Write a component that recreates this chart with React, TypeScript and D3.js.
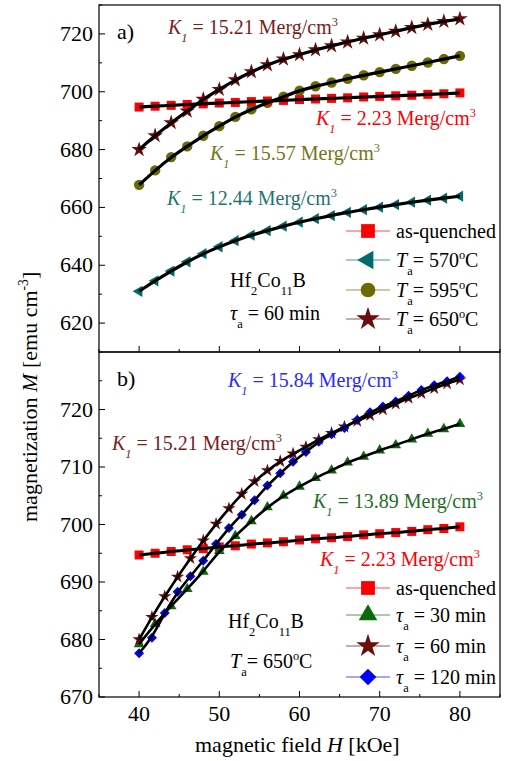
import React, { useEffect, useRef } from 'react';
import * as d3 from 'd3';

// panel a) field points (kOe) and magnetization (emu cm^-3)
const fieldA = [40, 42, 44, 46, 48, 50, 52, 54, 56, 58, 60, 62, 64, 66, 68, 70, 72, 74, 76, 78, 80];
const asQuenched = [694.7, 695.0, 695.3, 695.6, 695.8, 696.1, 696.3, 696.6, 696.8, 697.0, 697.3, 697.5, 697.7, 697.9, 698.2, 698.4, 698.6, 698.8, 699.1, 699.3, 699.6];
const ta570 = [631.0, 634.6, 638.0, 641.2, 644.0, 646.4, 648.5, 650.4, 652.0, 653.5, 654.9, 656.1, 657.2, 658.3, 659.2, 660.1, 661.0, 661.8, 662.5, 663.2, 663.9];
const ta595 = [667.8, 672.8, 677.4, 681.1, 684.8, 688.1, 691.3, 693.9, 696.2, 698.3, 700.4, 701.9, 703.2, 704.5, 705.7, 706.8, 707.9, 709.0, 710.1, 711.3, 712.4];
const ta650 = [680.0, 684.8, 689.3, 693.3, 697.4, 700.8, 704.1, 706.9, 709.3, 711.3, 712.8, 714.5, 715.9, 717.2, 718.5, 719.7, 720.9, 722.2, 723.3, 724.3, 725.2];

// panel b)
const tau30 = [679.2, 682.7, 685.8, 688.8, 691.8, 695.4, 698.0, 700.6, 703.0, 705.0, 706.6, 708.1, 709.4, 710.8, 711.8, 712.9, 713.8, 714.8, 715.8, 716.6, 717.5];
const fieldB = [40, 41.6, 43.2, 44.8, 46.4, 48, 49.6, 51.2, 52.8, 54.4, 56, 57.6, 59.2, 60.8, 62.4, 64, 65.6, 67.2, 68.8, 70.4, 72, 73.6, 75.2, 76.8, 78.4, 80];
const tau60 = [680.0, 683.9, 687.5, 690.9, 694.1, 697.2, 700.1, 702.8, 705.3, 707.5, 709.4, 711.0, 712.3, 713.5, 714.8, 715.9, 717.0, 718.0, 719.0, 720.0, 721.0, 722.0, 722.8, 723.7, 724.5, 725.2];
const tau120 = [677.6, 680.3, 684.6, 688.3, 691.0, 693.7, 696.6, 699.4, 701.7, 704.2, 706.8, 708.9, 710.9, 712.6, 714.4, 715.7, 716.8, 718.2, 719.5, 720.5, 721.4, 722.4, 723.4, 724.2, 724.9, 725.7];

const xTicks = [40, 50, 60, 70, 80];
const xMinor = [35, 45, 55, 65, 75, 85];
const yTicksA = [620, 640, 660, 680, 700, 720];
const yMinorA = [610, 630, 650, 670, 690, 710, 730];
const yTicksB = [670, 680, 690, 700, 710, 720];
const yMinorB = [675, 685, 695, 705, 715, 725];

const RED = '#ff0000';
const TEAL = '#006b6b';
const OLIVE = '#6b6b00';
const MAROON = '#6b0c0c';
const GREEN = '#0b6b0b';
const BLUE = '#0000ff';

const FONT = '"Liberation Serif", "Times New Roman", serif';

type Part = { t: string; i?: boolean; sub?: boolean; sup?: boolean };

const richText = (g: any, x: number, y: number, parts: Part[], size: number, color: string) => {
    const text = g.append('text')
        .attr('x', x)
        .attr('y', y)
        .attr('font-size', size)
        .attr('fill', color);
    let shift = 0;
    parts.forEach(p => {
        const target = p.sub ? size * 0.38 : p.sup ? -size * 0.42 : 0;
        const ts = text.append('tspan').attr('dy', target - shift).text(p.t);
        if (p.i) ts.attr('font-style', 'italic');
        if (p.sub || p.sup) ts.attr('font-size', size * 0.62);
        shift = target;
    });
    return text;
};

const kLabel = (val: string): Part[] => [
    { t: 'K', i: true }, { t: '1', i: true, sub: true }, { t: ' = ' + val + ' Merg/cm' }, { t: '3', sup: true }
];

const App = () => {
    const svgRef = useRef<SVGSVGElement>(null);

    useEffect(() => {
        const svg = d3.select(svgRef.current);
        svg.selectAll('*').remove();
        svg.attr('font-family', FONT);

        const left = 99, right = 500;
        const x = d3.scaleLinear().domain([35, 85]).range([left, right]);
        const yA = d3.scaleLinear().domain([610, 730]).range([352, 5]);
        const yB = d3.scaleLinear().domain([670, 730]).range([697, 352]);

        const sym = (type: any, size: number) => d3.symbol().type(type).size(size)();

        const drawAxes = (y: any, bottom: number, majors: number[], minors: number[], labelsX: boolean) => {
            const g = svg.append('g');
            // left ticks (inward)
            majors.forEach(v => {
                g.append('line').attr('x1', left).attr('x2', left + 6).attr('y1', y(v)).attr('y2', y(v)).attr('stroke', '#000');
                g.append('text').attr('x', left - 6).attr('y', y(v) + 7).attr('text-anchor', 'end')
                    .attr('font-size', 22).text(v);
            });
            minors.forEach(v => {
                g.append('line').attr('x1', left).attr('x2', left + 3).attr('y1', y(v)).attr('y2', y(v)).attr('stroke', '#000');
            });
            xTicks.forEach(v => {
                g.append('line').attr('x1', x(v)).attr('x2', x(v)).attr('y1', bottom).attr('y2', bottom - 6).attr('stroke', '#000');
                if (labelsX) {
                    g.append('text').attr('x', x(v)).attr('y', bottom + 24).attr('text-anchor', 'middle')
                        .attr('font-size', 22).text(v);
                }
            });
            xMinor.forEach(v => {
                g.append('line').attr('x1', x(v)).attr('x2', x(v)).attr('y1', bottom).attr('y2', bottom - 3).attr('stroke', '#000');
            });
        };

        const drawSeries = (y: any, xs: number[], ys: number[], color: string, shape: any, size: number, rotate: number) => {
            svg.append('g').selectAll('path')
                .data(ys)
                .enter()
                .append('path')
                .attr('d', sym(shape, size))
                .attr('transform', (d, i) => `translate(${x(xs[i])},${y(d)}) rotate(${rotate})`)
                .attr('fill', color);
        };

        const drawFit = (y: any, xs: number[], ys: number[], width: number) => {
            const line = d3.line<number>()
                .x((d, i) => x(xs[i]))
                .y(d => y(d))
                .curve(d3.curveBasis);
            svg.append('path')
                .datum(ys)
                .attr('fill', 'none')
                .attr('stroke', '#000')
                .attr('stroke-width', width)
                .attr('d', line);
        };

        const legendRow = (lx: number, ly: number, color: string, shape: any, size: number, rotate: number, parts: Part[]) => {
            svg.append('line').attr('x1', lx).attr('x2', lx + 44).attr('y1', ly).attr('y2', ly)
                .attr('stroke', color).attr('stroke-width', 1.2).attr('stroke-opacity', 0.7);
            svg.append('path').attr('d', sym(shape, size))
                .attr('transform', `translate(${lx + 22},${ly}) rotate(${rotate})`).attr('fill', color);
            richText(svg, lx + 50, ly + 7, parts, 20, '#000');
        };

        // ---- panel a)
        drawAxes(yA, 352, yTicksA, yMinorA, false);
        drawSeries(yA, fieldA, ta570, TEAL, d3.symbolTriangle, 55, -90);
        drawSeries(yA, fieldA, ta595, OLIVE, d3.symbolCircle, 85, 0);
        drawSeries(yA, fieldA, ta650, MAROON, d3.symbolStar, 75, 0);
        drawSeries(yA, fieldA, asQuenched, RED, d3.symbolSquare, 81, 0);
        [asQuenched, ta570, ta595, ta650].forEach(s => drawFit(yA, fieldA, s, 3.2));

        svg.append('text').attr('x', 117).attr('y', 39).attr('font-size', 22).text('a)');
        richText(svg, 168, 34, kLabel('15.21'), 20, '#7a1c1c');
        richText(svg, 316, 125, kLabel('2.23'), 20, RED);
        richText(svg, 210, 160, kLabel('15.57'), 20, '#747418');
        richText(svg, 167, 205, kLabel('12.44'), 20, '#1f7373');
        richText(svg, 230, 287, [{ t: 'Hf' }, { t: '2', sub: true }, { t: 'Co' }, { t: '11', sub: true }, { t: 'B' }], 20, '#000');
        richText(svg, 230, 320, [{ t: 'τ', i: true }, { t: 'a', sub: true }, { t: ' = 60 min' }], 20, '#000');

        legendRow(346, 231, RED, d3.symbolSquare, 190, 0, [{ t: 'as-quenched' }]);
        legendRow(346, 260, TEAL, d3.symbolTriangle, 150, -90, [{ t: 'T', i: true }, { t: 'a', sub: true }, { t: '= 570' }, { t: 'o', sup: true }, { t: 'C' }]);
        legendRow(346, 290, OLIVE, d3.symbolCircle, 170, 0, [{ t: 'T', i: true }, { t: 'a', sub: true }, { t: '= 595' }, { t: 'o', sup: true }, { t: 'C' }]);
        legendRow(346, 319, MAROON, d3.symbolStar, 170, 0, [{ t: 'T', i: true }, { t: 'a', sub: true }, { t: '= 650' }, { t: 'o', sup: true }, { t: 'C' }]);

        // ---- panel b)
        drawAxes(yB, 697, yTicksB, yMinorB, true);
        drawSeries(yB, fieldA, asQuenched, RED, d3.symbolSquare, 81, 0);
        drawSeries(yB, fieldA, tau30, GREEN, d3.symbolTriangle, 50, 0);
        drawSeries(yB, fieldB, tau60, MAROON, d3.symbolStar, 55, 0);
        drawSeries(yB, fieldB, tau120, BLUE, d3.symbolSquare, 50, 45);
        drawFit(yB, fieldA, asQuenched, 3);
        drawFit(yB, fieldA, tau30, 2.6);
        drawFit(yB, fieldB, tau60, 2.6);
        drawFit(yB, fieldB, tau120, 2.6);

        svg.append('text').attr('x', 117).attr('y', 386).attr('font-size', 22).text('b)');
        richText(svg, 228, 387, kLabel('15.84'), 20, '#2a2aff');
        richText(svg, 112, 450, kLabel('15.21'), 20, '#7a1c1c');
        richText(svg, 313, 508, kLabel('13.89'), 20, '#1f701f');
        richText(svg, 320, 566, kLabel('2.23'), 20, RED);
        richText(svg, 228, 628, [{ t: 'Hf' }, { t: '2', sub: true }, { t: 'Co' }, { t: '11', sub: true }, { t: 'B' }], 20, '#000');
        richText(svg, 230, 668, [{ t: 'T', i: true }, { t: 'a', sub: true }, { t: '= 650' }, { t: 'o', sup: true }, { t: 'C' }], 20, '#000');

        legendRow(346, 588, RED, d3.symbolSquare, 190, 0, [{ t: 'as-quenched' }]);
        legendRow(346, 615, GREEN, d3.symbolTriangle, 150, 0, [{ t: 'τ', i: true }, { t: 'a', sub: true }, { t: ' = 30 min' }]);
        legendRow(346, 646, MAROON, d3.symbolStar, 170, 0, [{ t: 'τ', i: true }, { t: 'a', sub: true }, { t: ' = 60 min' }]);
        legendRow(346, 677, BLUE, d3.symbolSquare, 140, 45, [{ t: 'τ', i: true }, { t: 'a', sub: true }, { t: ' = 120 min' }]);

        // frames
        svg.append('rect').attr('x', left).attr('y', 5).attr('width', right - left).attr('height', 347)
            .attr('fill', 'none').attr('stroke', '#000').attr('stroke-width', 1.2);
        svg.append('rect').attr('x', left).attr('y', 352).attr('width', right - left).attr('height', 345)
            .attr('fill', 'none').attr('stroke', '#000').attr('stroke-width', 1.2);

        // axis titles
        richText(svg, 195, 752, [{ t: 'magnetic field ' }, { t: 'H', i: true }, { t: ' [kOe]' }], 22, '#000');
        const yt = svg.append('g').attr('transform', 'translate(37,352) rotate(-90)');
        richText(yt, -170, 0, [{ t: 'magnetization ' }, { t: 'M', i: true }, { t: ' [emu cm' }, { t: '-3', sup: true }, { t: ']' }], 22, '#000');
    }, []);

    return (
        <svg ref={svgRef} width={505} height={761} style={{ position: 'absolute', left: 0, top: 0, background: '#fff' }}></svg>
    );
};

export default App;
